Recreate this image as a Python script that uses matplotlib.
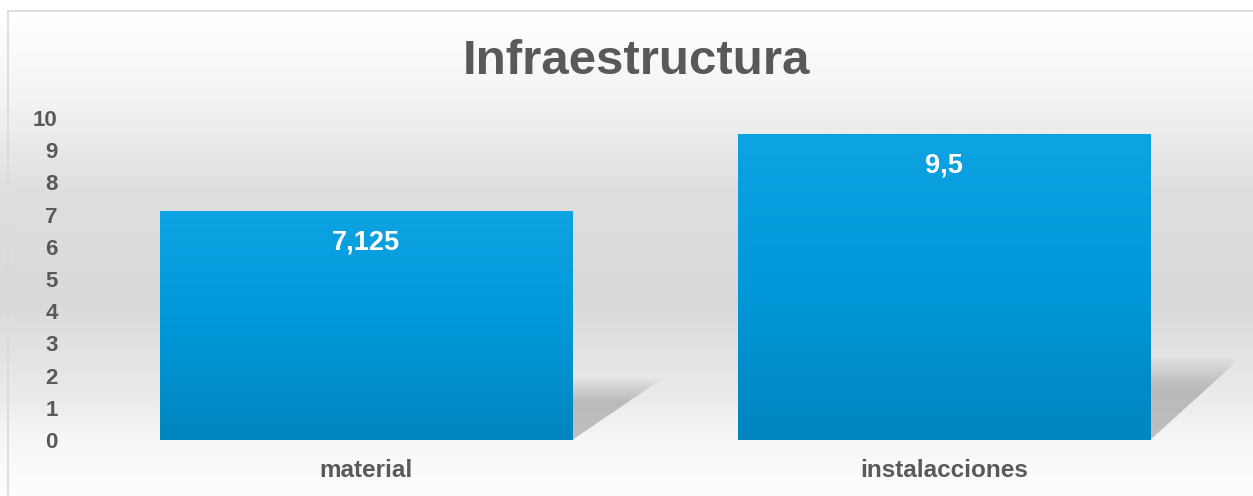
import numpy as np
import matplotlib
matplotlib.use("Agg")
import matplotlib.pyplot as plt
from matplotlib.colors import LinearSegmentedColormap
from matplotlib.patches import Polygon
from matplotlib.lines import Line2D

categories = ["material", "instalacciones"]
values = [7.125, 9.5]
value_labels = ["7,125", "9,5"]
yticks = list(range(0, 11))
title = "Infraestructura"

W, H = 1253, 496
fig = plt.figure(figsize=(W / 100, H / 100), dpi=100)

# background gradient (white -> light gray -> white)
bg = fig.add_axes([0, 0, 1, 1], zorder=-2)
py = np.arange(H)
stops_y = [0, 11, 100, 190, 300, 400, 440, 496]
stops_v = [1.0, 1.0, 0.95, 0.87, 0.85, 0.92, 0.965, 0.99]
shade = np.interp(py, stops_y, stops_v)
bg.imshow(np.repeat(shade[:, None], 2, axis=1), cmap="gray", vmin=0, vmax=1,
          aspect="auto", extent=[0, 1, 0, 1], origin="upper")
bg.axis("off")

# chart frame (only left/top visible)
fig.add_artist(Line2D([8 / W, 8 / W], [0, 1 - 11 / H], transform=fig.transFigure,
                      color="#d9d9d9", lw=1.2))
fig.add_artist(Line2D([8 / W, 1], [1 - 11 / H, 1 - 11 / H], transform=fig.transFigure,
                      color="#d9d9d9", lw=1.2))

ax = fig.add_axes([77 / W, 56 / H, (1233 - 77) / W, (440 - 118) / H])
ax.set_facecolor("none")

x = np.arange(len(categories))
width = 0.713
blue = LinearSegmentedColormap.from_list("blue", ["#0085bf", "#0098d9", "#0ea3e3"])
grad = np.linspace(0, 1, 256)[:, None]

bars = ax.bar(x, values, width=width, color="none", edgecolor="none", zorder=3)
for xi, v, bar, lab in zip(x, values, bars, value_labels):
    x0, x1 = xi - width / 2, xi + width / 2
    # soft skewed shadow behind the bar
    h = 0.24 * v
    dx = 0.14
    for s in np.linspace(0.7, 1.12, 16):
        poly = Polygon([(x0, 0), (x1, 0), (x1 + dx * s, h * s), (x0 + dx * s, h * s)],
                       closed=True, facecolor="#808080", edgecolor="none",
                       alpha=0.032, zorder=1)
        ax.add_patch(poly)
    im = ax.imshow(grad, cmap=blue, origin="lower", aspect="auto",
                   extent=[x0, x1, 0, v], zorder=2)
    im.set_clip_path(bar)
    ax.text(xi, v - 0.98, lab, ha="center", va="center", color="white",
            fontsize=19.5, fontweight="bold", family="Liberation Sans", zorder=4)

ax.set_xlim(-0.5, 1.5)
ax.set_ylim(0, 10)
ax.set_yticks(yticks)
ax.set_yticklabels([str(t) for t in yticks])
ax.set_xticks(x)
ax.set_xticklabels(categories)
for s in ax.spines.values():
    s.set_visible(False)
ax.tick_params(axis="y", length=0, pad=14, labelsize=16, labelcolor="#595959")
ax.tick_params(axis="x", length=0, pad=14, labelsize=17.5, labelcolor="#595959")
for t in ax.get_xticklabels() + ax.get_yticklabels():
    t.set_fontweight("bold")
    t.set_family("Liberation Sans")

fig.text(636 / W, 1 - 62 / H, title, ha="center", va="center", fontsize=35.5,
         fontweight="bold", color="#595959", family="Liberation Sans")

fig.savefig("out.png", dpi=100)
